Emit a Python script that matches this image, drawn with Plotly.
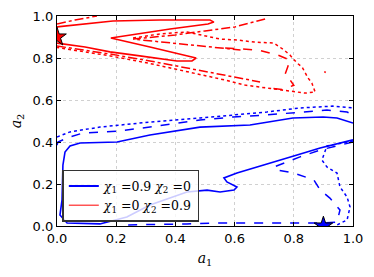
import plotly.graph_objects as go

# ---- data (a1, a2) ----
blue_solid_a1 = [1.0, 0.889, 0.811, 0.720, 0.608, 0.564, 0.574, 0.608, 0.598, 0.551, 0.507, 0.439, 0.392, 0.314, 0.236, 0.145, 0.034, 0.010, 0.017, 0.020, 0.027, 0.044, 0.078, 0.203, 0.314, 0.483, 0.652, 0.797, 0.899, 0.946, 1.0]
blue_solid_a2 = [0.410, 0.371, 0.338, 0.300, 0.252, 0.229, 0.210, 0.186, 0.171, 0.162, 0.171, 0.162, 0.138, 0.100, 0.043, 0.010, 0.014, 0.052, 0.124, 0.290, 0.352, 0.381, 0.395, 0.400, 0.433, 0.471, 0.481, 0.514, 0.519, 0.514, 0.490]

blue_dash_up_a1 = [0.0, 0.003, 0.044, 0.088, 0.203, 0.314, 0.483, 0.595, 0.709, 0.821, 0.912, 0.980, 1.0]
blue_dash_up_a2 = [0.385, 0.400, 0.424, 0.443, 0.452, 0.471, 0.505, 0.519, 0.529, 0.543, 0.552, 0.543, 0.529]
blue_dash_lo_a1 = [1.0, 0.889, 0.821, 0.733, 0.743, 0.801, 0.868, 0.889, 0.922, 0.956, 0.946, 0.889, 0.777, 0.551, 0.439, 0.236, 0.213]
blue_dash_lo_a2 = [0.400, 0.362, 0.329, 0.281, 0.267, 0.252, 0.219, 0.171, 0.133, 0.076, 0.019, 0.014, 0.014, 0.014, 0.010, 0.005, 0.0]

blue_dot_up_a1 = [0.0, 0.044, 0.145, 0.314, 0.483, 0.595, 0.709, 0.821, 0.932, 1.0]
blue_dot_up_a2 = [0.424, 0.448, 0.471, 0.495, 0.514, 0.529, 0.543, 0.562, 0.571, 0.562]
blue_dot_lo_a1 = [1.0, 0.912, 0.895, 0.912, 0.946, 0.956, 0.980, 0.990, 0.980, 0.956, 0.939]
blue_dot_lo_a2 = [0.405, 0.381, 0.314, 0.281, 0.252, 0.186, 0.138, 0.090, 0.029, 0.010, 0.0]

red_solid_a1 = [0.0, 0.095, 0.189, 0.348, 0.517, 0.530, 0.510, 0.382, 0.182, 0.314, 0.449, 0.470, 0.456, 0.405, 0.280, 0.179, 0.095, 0.0]
red_solid_a2 = [0.948, 0.962, 0.976, 0.981, 0.981, 0.971, 0.962, 0.938, 0.895, 0.852, 0.810, 0.800, 0.786, 0.786, 0.810, 0.829, 0.852, 0.871]

red_dd_top_a1 = [0.0, 0.061, 0.135]
red_dd_top_a2 = [0.962, 0.981, 1.0]
red_dd_wedge_a1 = [0.703, 0.650, 0.601, 0.500, 0.400, 0.257, 0.350, 0.450, 0.574, 0.620]
red_dd_wedge_a2 = [0.986, 0.967, 0.948, 0.929, 0.910, 0.890, 0.876, 0.862, 0.843, 0.838]
red_dd_low_a1 = [0.0, 0.179, 0.314, 0.459, 0.601, 0.686]
red_dd_low_a2 = [0.857, 0.819, 0.786, 0.748, 0.710, 0.686]

red_dash_a1 = [0.568, 0.680, 0.747, 0.787, 0.780, 0.770, 0.790, 0.800, 0.760, 0.700]
red_dash_a2 = [0.848, 0.838, 0.814, 0.790, 0.760, 0.720, 0.690, 0.670, 0.650, 0.660]

red_dot_a1 = [0.257, 0.350, 0.439, 0.497, 0.551, 0.608, 0.666, 0.733, 0.767, 0.787, 0.811, 0.828, 0.838, 0.848, 0.861, 0.872, 0.838, 0.760, 0.703, 0.635, 0.568, 0.460, 0.310, 0.180, 0.0]
red_dot_a2 = [0.895, 0.915, 0.924, 0.905, 0.890, 0.886, 0.876, 0.871, 0.838, 0.814, 0.776, 0.757, 0.733, 0.705, 0.681, 0.638, 0.633, 0.648, 0.657, 0.671, 0.695, 0.730, 0.775, 0.810, 0.850]
red_dot_isolated_a1 = [0.903, 0.908]
red_dot_isolated_a2 = [0.735, 0.731]

star_a1 = [0.0, 0.9]
star_a2 = [0.9, 0.0]
star_colors = ["red", "blue"]

legend_labels = ["<i>χ</i><sub>1</sub> =0.9 <i>χ</i><sub>2</sub> =0",
                 "<i>χ</i><sub>1</sub> =0 <i>χ</i><sub>2</sub> =0.9"]

x_ticks = [0.0, 0.2, 0.4, 0.6, 0.8, 1.0]
y_ticks = [0.0, 0.2, 0.4, 0.6, 0.8, 1.0]

BLUE = "#0000ff"
RED = "#ff0000"

fig = go.Figure()

def add(x, y, color, dash, width=1.5):
    fig.add_trace(go.Scatter(x=x, y=y, mode="lines", showlegend=False,
                             line=dict(color=color, dash=dash, width=width),
                             hoverinfo="skip"))

add(blue_solid_a1, blue_solid_a2, BLUE, "solid", 1.6)
add(blue_dash_up_a1, blue_dash_up_a2, BLUE, "dash")
add(blue_dash_lo_a1, blue_dash_lo_a2, BLUE, "dash")
add(blue_dot_up_a1, blue_dot_up_a2, BLUE, "dot")
add(blue_dot_lo_a1, blue_dot_lo_a2, BLUE, "dot")

add(red_solid_a1, red_solid_a2, RED, "solid", 1.6)
add(red_dd_top_a1, red_dd_top_a2, RED, "dashdot")
add(red_dd_wedge_a1, red_dd_wedge_a2, RED, "dashdot")
add(red_dd_low_a1, red_dd_low_a2, RED, "dashdot")
add(red_dash_a1, red_dash_a2, RED, "dash")
add(red_dot_a1, red_dot_a2, RED, "dot")
add(red_dot_isolated_a1, red_dot_isolated_a2, RED, "dot")

fig.add_trace(go.Scatter(x=star_a1, y=star_a2, mode="markers", showlegend=False,
                         marker=dict(symbol="star", size=14, color=star_colors,
                                     line=dict(color="black", width=1)),
                         cliponaxis=True, hoverinfo="skip"))

# legend entries
fig.add_trace(go.Scatter(x=[None], y=[None], mode="lines", name=legend_labels[0],
                         line=dict(color=BLUE, width=2)))
fig.add_trace(go.Scatter(x=[None], y=[None], mode="lines", name=legend_labels[1],
                         line=dict(color=RED, width=1)))

axis_common = dict(range=[0, 1], showgrid=True, gridcolor="#d0d0d0", griddash="dot",
                   gridwidth=1, zeroline=False, showline=True, linecolor="black",
                   linewidth=1.2, mirror="ticks", ticks="inside", ticklen=4,
                   tickcolor="black", tickformat=".1f", automargin=False,
                   tickfont=dict(family="DejaVu Sans", size=13, color="black"))

# page body has an 8px default margin, so the figure is sized/offset for it
fig.update_layout(
    width=366, height=269,
    margin=dict(l=49, r=21, t=8, b=51, autoexpand=False),
    plot_bgcolor="white", paper_bgcolor="white",
    xaxis=dict(axis_common, tickvals=x_ticks,
               title=dict(text="<i>a</i><sub>1</sub>", standoff=8,
                          font=dict(family="DejaVu Serif", size=14, color="black"))),
    yaxis=dict(axis_common, tickvals=y_ticks,
               title=dict(text="<i>a</i><sub>2</sub>", standoff=8,
                          font=dict(family="DejaVu Serif", size=14, color="black"))),
    legend=dict(x=0.018, y=0.02, xanchor="left", yanchor="bottom",
                bgcolor="rgba(255,255,255,0.8)", bordercolor="#333", borderwidth=1.5,
                font=dict(family="DejaVu Serif", size=12.5, color="black"),
                tracegroupgap=0, itemwidth=30),
    showlegend=True,
)

fig.write_html("out.html")
